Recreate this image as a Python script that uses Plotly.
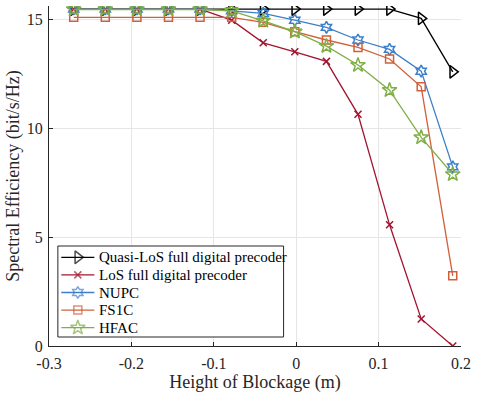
import plotly.graph_objects as go

heights = [-0.27, -0.2317, -0.1933, -0.155, -0.1167, -0.0783, -0.04, -0.0017, 0.0367, 0.075, 0.1133, 0.1517, 0.19]

quasi_los = [15.46, 15.46, 15.46, 15.46, 15.46, 15.46, 15.46, 15.46, 15.46, 15.46, 15.46, 15.03, 12.58]
los = [15.46, 15.46, 15.46, 15.46, 15.46, 14.95, 13.91, 13.50, 13.06, 10.63, 5.56, 1.24, 0.0]
nupc = [15.46, 15.46, 15.46, 15.46, 15.46, 15.38, 15.26, 14.95, 14.62, 14.04, 13.61, 12.61, 8.22]
fs1c = [15.08, 15.08, 15.08, 15.08, 15.08, 15.08, 14.85, 14.42, 14.04, 13.70, 13.17, 11.89, 3.22]
hfac = [15.44, 15.44, 15.44, 15.44, 15.44, 15.38, 14.92, 14.42, 13.76, 12.89, 11.74, 9.57, 7.88]

names = ["Quasi-LoS full digital precoder", "LoS full digital precoder", "NUPC", "FS1C", "HFAC"]
series = [quasi_los, los, nupc, fs1c, hfac]
colors = ["#000000", "#A2142F", "#3B7FCB", "#D0603A", "#7FAF45"]
symbols = ["triangle-right-open", "x-thin-open", "hexagram-open", "square-open", "star-open"]
sizes = [11, 7, 9, 8, 11]

font = "Liberation Serif"

fig = go.Figure()
for n, s, c, sym, sz in zip(names, series, colors, symbols, sizes):
    fig.add_trace(go.Scatter(
        x=heights, y=s, name=n, mode="lines+markers", showlegend=False,
        line=dict(color=c, width=1.3),
        marker=dict(symbol=sym, size=sz, color=c, line=dict(color=c, width=1.5)),
    ))

# Manual legend drawn in an overlay pixel-like coordinate system
leg_left, leg_right, leg_top, leg_bottom = 58, 287, 246, 337
row_y0, row_step = 257.3, 17.6
seg_x0, seg_x1, text_x = 61.5, 95, 97.5
fig.add_trace(go.Scatter(
    x=[leg_left, leg_right, leg_right, leg_left, leg_left],
    y=[leg_top, leg_top, leg_bottom, leg_bottom, leg_top],
    xaxis="x2", yaxis="y2", mode="lines", fill="toself", fillcolor="white",
    line=dict(color="#262626", width=1), showlegend=False, hoverinfo="skip",
))
for i, (n, c, sym, sz) in enumerate(zip(names, colors, symbols, sizes)):
    ry = row_y0 + i * row_step
    fig.add_trace(go.Scatter(
        x=[seg_x0, (seg_x0 + seg_x1) / 2, seg_x1], y=[ry, ry, ry],
        xaxis="x2", yaxis="y2", mode="lines+markers", showlegend=False,
        hoverinfo="skip",
        line=dict(color=c, width=1.3),
        marker=dict(symbol=sym, size=[0, sz, 0], color=c, line=dict(color=c, width=1.5)),
    ))
    fig.add_annotation(x=text_x, y=ry, xref="x2", yref="y2", text=n,
                       showarrow=False, xanchor="left", yanchor="middle",
                       font=dict(family=font, size=15, color="#000000"))

tf = dict(family=font, size=16, color="#262626")
fig.update_layout(
    width=477, height=396,
    margin=dict(l=49, r=10, t=6, b=50),
    plot_bgcolor="white", paper_bgcolor="white",
    font=dict(family=font, size=16, color="#262626"),
    showlegend=False,
    xaxis=dict(range=[-0.3, 0.2], tickvals=[-0.3, -0.2, -0.1, 0, 0.1, 0.2],
               ticktext=["-0.3", "-0.2", "-0.1", "0", "0.1", "0.2"],
               tickfont=tf, ticklabelstandoff=3,
               showgrid=True, gridcolor="#E6E6E6", gridwidth=1,
               showline=True, linecolor="#262626", linewidth=1,
               ticks="inside", ticklen=4, tickcolor="#262626",
               zeroline=False,
               title=dict(text="Height of Blockage (m)", font=dict(size=18, family=font, color="#262626"), standoff=2)),
    yaxis=dict(range=[0, 15.6], tickvals=[0, 5, 10, 15],
               tickfont=tf, ticklabelstandoff=2,
               showgrid=True, gridcolor="#E6E6E6", gridwidth=1,
               showline=True, linecolor="#262626", linewidth=1,
               ticks="inside", ticklen=4, tickcolor="#262626",
               zeroline=False,
               title=dict(text="Spectral Efficiency (bit/s/Hz)", font=dict(size=18, family=font, color="#262626"), standoff=2)),
    xaxis2=dict(overlaying="x", anchor="y2", range=[49, 467], visible=False, fixedrange=True),
    yaxis2=dict(overlaying="y", anchor="x2", range=[346, 6], visible=False, fixedrange=True),
)

fig.write_html("out.html")
